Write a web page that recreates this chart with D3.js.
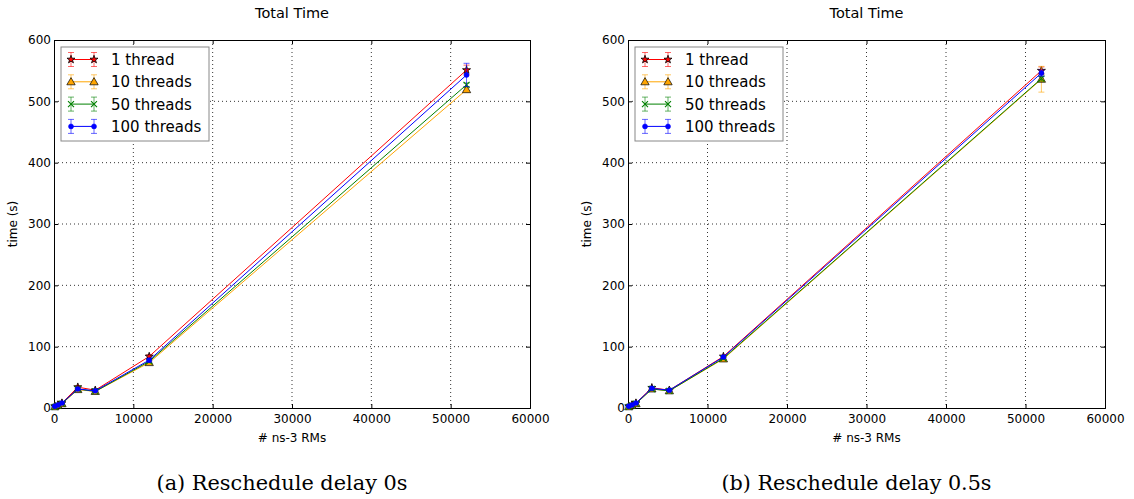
<!DOCTYPE html>
<html><head><meta charset="utf-8">
<script src="https://cdn.jsdelivr.net/npm/d3@7"></script>
<style>body{margin:0;background:#fff}svg{display:block}</style>
</head><body>
<svg id="c" width="1134" height="499"></svg>
<script>
const xValues = [100, 500, 1000, 3000, 5200, 12000, 52000];
const seriesNames = ["1 thread", "10 threads", "50 threads", "100 threads"];
const seriesColors = ["#ff0000", "#ffa500", "#008000", "#0000ff"];
const xTicks = [0, 10000, 20000, 30000, 40000, 50000, 60000];
const yTicks = [0, 100, 200, 300, 400, 500, 600];

// Panel (a): reschedule delay 0s
const a1 = [3, 5, 8, 34, 29, 84, 551];
const a10 = [2, 4, 7, 30, 27, 74, 519];
const a50 = [2, 4, 7, 31, 27, 76, 527];
const a100 = [3, 5, 8, 31, 28, 78, 543];
const a1err = [0.5, 0.5, 1, 2, 1, 3, 8];
const a10err = [0.5, 0.5, 1, 2, 1, 2, 3];
const a50err = [0.5, 0.5, 1, 2, 1, 2, 3];
const a100err = [0.5, 0.5, 1, 2, 1, 3, 19];

// Panel (b): reschedule delay 0.5s
const b1 = [3, 5, 8, 33, 29, 84, 550];
const b10 = [2, 4, 7, 31, 28, 80, 536];
const b50 = [2, 4, 7, 31, 28, 81, 537];
const b100 = [3, 5, 8, 32, 29, 83, 546];
const b1err = [0.5, 0.5, 1, 2, 1, 2, 6];
const b10err = [0.5, 0.5, 1, 2, 1, 2, 21];
const b50err = [0.5, 0.5, 1, 2, 1, 2, 4];
const b100err = [0.5, 0.5, 1, 2, 1, 2, 5];

const panels = [
  {left: 54, right: 530, series: [a1, a10, a50, a100], errs: [a1err, a10err, a50err, a100err], caption: "(a)  Reschedule delay 0s", capLen: 251},
  {left: 628, right: 1105, series: [b1, b10, b50, b100], errs: [b1err, b10err, b50err, b100err], caption: "(b)  Reschedule delay 0.5s", capLen: 270}
];
const plotTop = 40, plotBottom = 408;
const svg = d3.select("#c");
const font = "DejaVu Sans, sans-serif";

function marker(g, kind, x, y, color) {
  if (kind === 0) {
    g.append("path").attr("d", d3.symbol(d3.symbolStar, 20)()).attr("transform", `translate(${x},${y})`)
      .attr("fill", color).attr("stroke", "#000").attr("stroke-width", 0.8);
  } else if (kind === 1) {
    g.append("path").attr("d", d3.symbol(d3.symbolTriangle, 30)()).attr("transform", `translate(${x},${y+0.6})`)
      .attr("fill", color).attr("stroke", "#000").attr("stroke-width", 0.7);
  } else if (kind === 2) {
    g.append("path").attr("d", `M${x-3},${y-3}L${x+3},${y+3}M${x-3},${y+3}L${x+3},${y-3}`)
      .attr("stroke", color).attr("stroke-width", 1.1).attr("fill", "none");
  } else {
    g.append("circle").attr("cx", x).attr("cy", y).attr("r", 2.5).attr("fill", color).attr("stroke", color).attr("stroke-width", 0.5);
  }
}

panels.forEach(p => {
  const xs = d3.scaleLinear().domain([0, 60000]).range([p.left, p.right]);
  const ys = d3.scaleLinear().domain([0, 600]).range([plotBottom, plotTop]);
  const g = svg.append("g");
  // grid
  xTicks.slice(1, -1).forEach(t => g.append("line").attr("x1", xs(t)).attr("x2", xs(t)).attr("y1", plotTop).attr("y2", plotBottom)
    .attr("stroke", "#000").attr("stroke-width", 0.8).attr("stroke-dasharray", "1,3"));
  yTicks.slice(1, -1).forEach(t => g.append("line").attr("x1", p.left).attr("x2", p.right).attr("y1", ys(t)).attr("y2", ys(t))
    .attr("stroke", "#000").attr("stroke-width", 0.8).attr("stroke-dasharray", "1,3"));
  // axes (inward ticks)
  const xa = d3.axisBottom(xs).tickValues(xTicks).tickSize(-4).tickPadding(6).tickFormat(d3.format("d"));
  const xat = d3.axisTop(xs).tickValues(xTicks).tickSize(-4).tickFormat("");
  const ya = d3.axisLeft(ys).tickValues(yTicks).tickSize(-4).tickPadding(3).tickFormat(d3.format("d"));
  const yar = d3.axisRight(ys).tickValues(yTicks).tickSize(-4).tickFormat("");
  [[xa, `translate(0,${plotBottom})`], [xat, `translate(0,${plotTop})`], [ya, `translate(${p.left},0)`], [yar, `translate(${p.right},0)`]].forEach(([ax, tr]) => {
    const a = g.append("g").attr("transform", tr).call(ax);
    a.select(".domain").attr("stroke", "#000").attr("stroke-width", 1);
    a.selectAll("text").attr("font-family", font).attr("font-size", 12).attr("fill", "#000");
  });
  // labels
  const cx = (p.left + p.right) / 2;
  g.append("text").attr("x", cx).attr("y", 18).attr("text-anchor", "middle").attr("font-family", font).attr("font-size", 14.5).text("Total Time");
  g.append("text").attr("x", cx).attr("y", 442).attr("text-anchor", "middle").attr("font-family", font).attr("font-size", 12).text("# ns-3 RMs");
  g.append("text").attr("transform", `translate(${p.left - 37},${(plotTop + plotBottom) / 2}) rotate(-90)`).attr("text-anchor", "middle")
    .attr("font-family", font).attr("font-size", 12).text("time (s)");
  g.append("text").attr("x", cx - 10).attr("y", 490).attr("text-anchor", "middle").attr("font-family", "DejaVu Serif, serif")
    .attr("font-size", 20).attr("textLength", p.capLen).attr("lengthAdjust", "spacingAndGlyphs").text(p.caption);
  // series
  p.series.forEach((s, i) => {
    const col = seriesColors[i];
    const e = p.errs[i];
    const sg = g.append("g");
    s.forEach((v, j) => {
      const x = xs(xValues[j]);
      sg.append("path").attr("d", `M${x},${ys(v - e[j])}V${ys(v + e[j])}M${x - 3},${ys(v - e[j])}H${x + 3}M${x - 3},${ys(v + e[j])}H${x + 3}`)
        .attr("stroke", col).attr("stroke-opacity", 0.6).attr("stroke-width", 1).attr("fill", "none");
    });
    sg.append("path").datum(s).attr("d", d3.line().x((v, j) => xs(xValues[j])).y(v => ys(v)))
      .attr("fill", "none").attr("stroke", col).attr("stroke-width", 1);
    s.forEach((v, j) => marker(sg, i, xs(xValues[j]), ys(v), col));
  });
  // legend
  const lx = p.left + 7, ly = 47;
  const lg = g.append("g");
  lg.append("rect").attr("x", lx).attr("y", ly).attr("width", 148).attr("height", 94)
    .attr("fill", "#fff").attr("stroke", "#888").attr("stroke-width", 1);
  seriesNames.forEach((n, i) => {
    const yy = ly + 12.5 + i * 22.3;
    const x1 = lx + 10, x2 = lx + 33;
    const col = seriesColors[i];
    lg.append("line").attr("x1", x1).attr("x2", x2).attr("y1", yy).attr("y2", yy).attr("stroke", col).attr("stroke-width", 1);
    [x1, x2].forEach(x => {
      lg.append("path").attr("d", `M${x},${yy - 7}V${yy + 7}M${x - 3},${yy - 7}H${x + 3}M${x - 3},${yy + 7}H${x + 3}`)
        .attr("stroke", col).attr("stroke-opacity", 0.6).attr("fill", "none");
      marker(lg, i, x, yy, col);
    });
    lg.append("text").attr("x", lx + 50).attr("y", yy + 5.5).attr("font-family", font).attr("font-size", 15).text(n);
  });
});
</script>
</body></html>
